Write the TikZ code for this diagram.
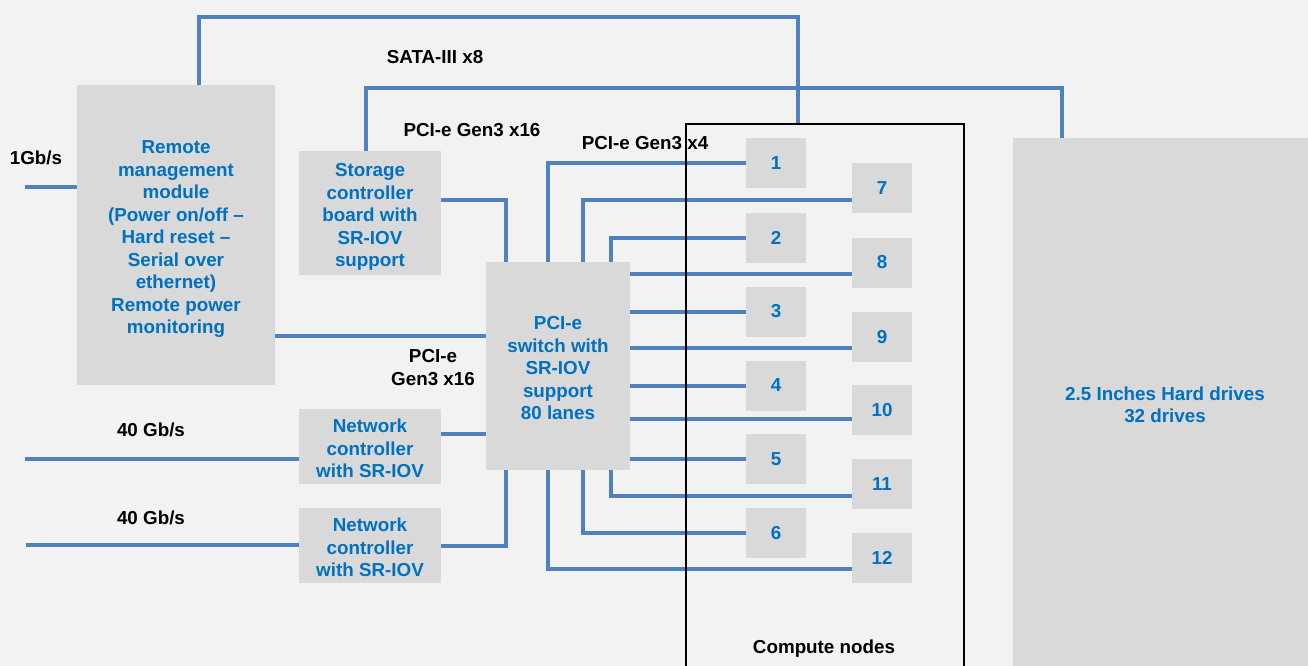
\documentclass[tikz,border=0pt]{standalone}
\usepackage{fontspec}
\setmainfont{Liberation Sans}
\definecolor{bgc}{HTML}{F2F2F2}
\definecolor{boxg}{HTML}{D9D9D9}
\definecolor{wirec}{HTML}{4F81BD}
\definecolor{txtb}{HTML}{0070C0}
\newcommand\myTopStrut{\rule{0pt}{21.5pt}}
\newcommand\myBotStrut{\rule[-3.9pt]{0pt}{3.9pt}}
\begin{document}
\begin{tikzpicture}[x=1pt,y=-1pt,
  box/.style={fill=boxg, inner sep=0pt, outer sep=0pt, align=center, text=txtb,
    font=\fontsize{18.8}{22.5}\selectfont\bfseries},
  cnode/.style={box, minimum width=60pt, minimum height=50pt},
  wire/.style={draw=wirec, line width=4pt},
  lbl/.style={inner sep=0pt, align=center, text=black,
    font=\fontsize{18.8}{22.5}\selectfont\bfseries}]
\useasboundingbox (0,0) rectangle (1308,666);
\clip (0,0) rectangle (1308,666);
\fill[bgc] (0,0) rectangle (1308,666);

% main boxes
\node[box, minimum width=198pt, minimum height=300pt] (rmm) at (176,235)
  {\myTopStrut Remote\\management\\module\\(Power on/off –\\Hard reset –\\Serial over\\ethernet)\\Remote power\\monitoring\myBotStrut};
\node[box, minimum width=142pt, minimum height=124pt] (stor) at (370,213)
  {\myTopStrut Storage\\controller\\board with\\SR-IOV\\support\myBotStrut};
\node[box, minimum width=144pt, minimum height=208pt] (sw) at (558,366)
  {\myTopStrut PCI-e\\switch with\\SR-IOV\\support\\80 lanes\myBotStrut};
\node[box, minimum width=142pt, minimum height=75pt] (net1) at (370,446.5)
  {\myTopStrut Network\\controller\\with SR-IOV\myBotStrut};
\node[box, minimum width=142pt, minimum height=75pt] (net2) at (370,545.5)
  {\myTopStrut Network\\controller\\with SR-IOV\myBotStrut};
\node[box, minimum width=304pt, minimum height=534pt] (hdd) at (1165,405)
  {2.5 Inches Hard drives\\32 drives};

% compute-node enclosure (outline drawn last)
\node[inner sep=0pt, outer sep=0pt, minimum width=278pt, minimum height=576pt, anchor=north west] (cbox) at (686,124) {};

% compute nodes
\node[cnode] (n1) at (776,163) {1};
\node[cnode] (n2) at (776,237.5) {2};
\node[cnode] (n3) at (776,311.5) {3};
\node[cnode] (n4) at (776,385.5) {4};
\node[cnode] (n5) at (776,459) {5};
\node[cnode] (n6) at (776,533) {6};
\node[cnode] (n7) at (882,188) {7};
\node[cnode] (n8) at (882,262.5) {8};
\node[cnode] (n9) at (882,337) {9};
\node[cnode] (n10) at (882,410) {10};
\node[cnode] (n11) at (882,484) {11};
\node[cnode] (n12) at (882,558) {12};

% helper coordinates
\coordinate (xa) at (548,0);
\coordinate (xb) at (583,0);
\coordinate (xc) at (611,0);
\coordinate (p7) at ([yshift=-12pt]n7.west);
\coordinate (p8) at ([yshift=-11.5pt]n8.west);
\coordinate (p9) at ([yshift=-10.5pt]n9.west);
\coordinate (p10) at ([yshift=-9pt]n10.west);
\coordinate (p11) at ([yshift=-12pt]n11.west);
\coordinate (p12) at ([yshift=-10.5pt]n12.west);

% switch to compute nodes
\draw[wire] (sw.north -| xa) |- (n1.west);
\draw[wire] (sw.north -| xb) |- (p7);
\draw[wire] (sw.north -| xc) |- (n2.west);
\draw[wire] (sw.east |- p8) -- (p8);
\draw[wire] (sw.east |- n3.west) -- (n3.west);
\draw[wire] (sw.east |- p9) -- (p9);
\draw[wire] (sw.east |- n4.west) -- (n4.west);
\draw[wire] (sw.east |- p10) -- (p10);
\draw[wire] (sw.east |- n5.west) -- (n5.west);
\draw[wire] (sw.south -| xc) |- (p11);
\draw[wire] (sw.south -| xb) |- (n6.west);
\draw[wire] (sw.south -| xa) |- (p12);

% other wires
\coordinate (tl) at (199,17);
\coordinate (tr) at (798,17);
\draw[wire] (rmm.north -| tl) -- (tl) -- (tr) -- (cbox.north -| tr);
\coordinate (sl) at (366,88);
\coordinate (sr) at (1062,88);
\draw[wire] (stor.north -| sl) -- (sl) -- (sr) -- (hdd.north -| sr);
\coordinate (s1) at (506,200);
\draw[wire] (stor.east |- s1) -- (s1) -- (sw.north -| s1);
\coordinate (r1) at (0,336);
\draw[wire] (rmm.east |- r1) -- (sw.west |- r1);
\coordinate (r2) at (0,434);
\draw[wire] (net1.east |- r2) -- (sw.west |- r2);
\draw[wire] (net2.east) -| (sw.south -| s1);
\coordinate (g1) at (25,187);
\draw[wire] (g1) -- (rmm.west |- g1);
\coordinate (e1) at (25,459);
\draw[wire] (e1) -- (net1.west |- e1);
\coordinate (e2) at (26,545);
\draw[wire] (e2) -- (net2.west |- e2);

% labels
\node[lbl] (lsata) at (435,57) {SATA-III x8};
\node[lbl] (lx16) at (472,130) {PCI-e Gen3 x16};
\node[lbl] (lx4) at (645,143) {PCI-e Gen3 x4};
\node[lbl] (l1g) at (36,158) {1Gb/s};
\node[lbl] (lx16b) at (433,367.5) {PCI-e\\Gen3 x16};
\node[lbl] (l40a) at (151,430) {40 Gb/s};
\node[lbl] (l40b) at (151,518) {40 Gb/s};
\node[lbl] (lcn) at (824,649) {Compute nodes};

% enclosure outline on top
\draw[black, line width=2pt] (cbox.south west) rectangle (cbox.north east);
\end{tikzpicture}
\end{document}
